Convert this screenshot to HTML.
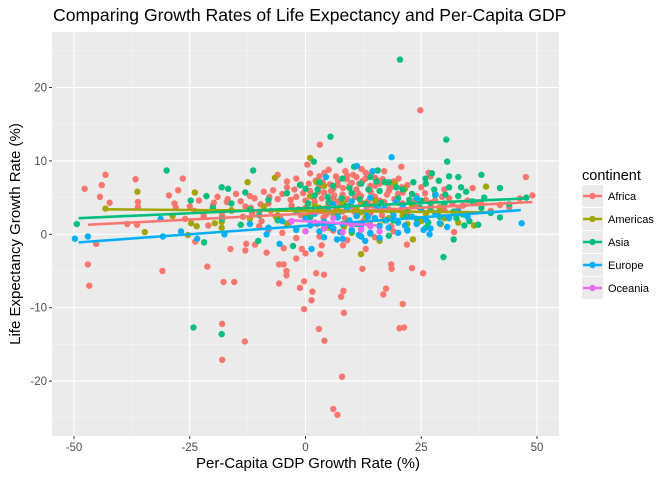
<!DOCTYPE html>
<html><head><meta charset="utf-8"><style>
body{margin:0;background:#fff;font-family:"Liberation Sans",sans-serif;}
svg text{font-family:"Liberation Sans",sans-serif;}
</style></head><body>
<svg id="chart" width="672" height="480" xmlns="http://www.w3.org/2000/svg">
<text x="53" y="21" font-size="17.6" fill="#000">Comparing Growth Rates of Life Expectancy and Per-Capita GDP</text>
<rect x="52" y="32" width="507" height="404" fill="#ebebeb"/>
<g id="grid"></g>
<g id="points"></g>
<g id="lines"></g>
<g id="axes"></g>
<text x="308" y="468" font-size="15" text-anchor="middle" fill="#000">Per-Capita GDP Growth Rate (%)</text>
<text transform="translate(20,234) rotate(-90)" font-size="15" text-anchor="middle" fill="#000">Life Expectancy Growth Rate (%)</text>
<g id="legend"></g>
</svg>
<script>
const xTicks=[-50,-25,0,25,50];
const yTicks=[-20,-10,0,10,20];
const continents=["Africa","Americas","Asia","Europe","Oceania"];
const colors=["#F8766D","#A3A500","#00BF7D","#00B0F6","#E76BF3"];
const africa=[24.8,16.9,3.1,12.2,-47.7,6.2,-43.2,8.1,-44,6.7,-44.4,5.1,-42.3,4.3,-36.7,7.5,-36.2,4.4,-36.2,3.7,-29.5,5.3,-28.3,4.2,-27.5,6,-26.5,7.6,-38.5,1.4,-36.4,1.3,-45.2,-1.3,-47,-4.1,-46.7,-7,-30.9,-5,-23.8,-1,-21.2,-4.4,-17.7,-6.5,-15.4,-6.5,-16.2,-2,-18,-12.2,-18,-17.1,-13.1,-14.6,-12.8,-1.3,-13,-2.2,-10.9,-1.4,-8.4,-2.5,-5.7,-4.1,-4.7,-4.1,-4.1,-5,-4.1,-5.6,-5.7,-6.7,-4.7,-1.9,-2,-3.3,-0.8,-2,0,-2.6,-1.2,-7.3,-0.3,-6.4,-0.3,-10.2,1.5,-7.8,1.3,-9,2.3,-5.3,3.2,-2.7,3.5,-1.5,4,-5.5,2.9,-12.9,4.1,-14.5,8.2,-7.7,7.7,-8.5,8.3,-10.7,7.9,-19.4,6,-23.8,6.9,-24.6,8.1,-1.5,12.3,-4.7,13,-2,16.8,-8.2,17.4,-7.4,18.5,-4.1,18.6,-4.7,21,-9.5,20.3,-12.8,21.3,-12.7,21.9,-1.4,23,-4.6,25.4,-5.3,32.1,0.3,47.6,7.8,49,5.3,46.3,4.9,36.1,6.3,20.7,9.2,0.4,9.5,26.6,8.4,
-14,4.5,-13,3.8,-12,5.2,-11,4.9,-10,3.1,-9,5.8,-8,4.2,-7,6,-6,4.8,-5,5.5,-4,6.4,-3,3.9,-2,5.1,-1,6.8,0,4.6,1,5.9,2,3.3,3,6.5,4,5.7,5,4.1,6,6.2,7,7.3,8,5.4,9,4.8,10,7,11,6.1,12,5.2,13,7.6,14,6.6,15,5.1,16,6.9,17,4.4,18,5.9,19,7.2,20,5.5,21,4.2,22,6.7,23,3.8,24,5.2,25,6.4,26,4.7,27,7.9,28,5.5,29,3.6,30,6.1,31,4.9,-13.5,2.4,-11.5,2.8,-9.5,1.8,-7.5,3.2,-5.5,2.3,-3.5,1.6,-1.5,3.4,0.5,2.1,2.5,1.4,4.5,2.7,6.5,3.6,8.5,2.2,10.5,3.1,12.5,1.8,14.5,3.9,16.5,2.6,18.5,1.1,20.5,3.3,22.5,2.4,24.5,1.7,-6,8.1,-4,7.2,-2,7.6,1,8.3,3,7.9,5,8.8,7,6.7,9,8.0,11,7.8,13,8.4,15,7.7,17,8.6,-20,3.9,-19,5.1,-18,2.6,-17,4.4,-16,3.2,-15,5.5,-22,2.5,-24,3.2,-26,2.1,-28,3.6,-21,1.2,0,3.6,2,4.4,4,3.5,6,4.9,8,3.1,10,5.6,12,4.3,14,2.9,16,4.6,18,3.4,20,4.3,22,3.1,24,4.1,26,2.9,28,4.6,30,3.3,-1,2.6,1.5,5.3,3.5,4.9,5.5,5.9,7.5,4.2,9.5,6.6,11.5,5.5,13.5,4.5,-8,0.6,-5,0.2,-2,-0.5,3,-0.3,6,0.5,9,-0.8,12,0.8,15,-0.4,19,0.4,-10,1.1,33,3.4,35,4.6,38,4.1,40,3.2,42,4,44,3.7,
-0.5,5.6,0.7,6.9,1.8,4.9,2.8,5.8,3.7,7.1,4.6,3.1,5.3,6.8,6.2,5.3,7.1,4.5,8.1,6.3,8.9,7.5,9.8,3.8,10.7,5.1,11.6,6.9,12.4,7.3,13.2,3.6,14.1,5.8,15,6.6,15.8,3.4,16.7,7.5,17.6,5.4,18.3,6.3,19.2,4.8,20.1,7.6,21,5.7,1.2,2.9,3.9,2.3,6.8,2.7,9.2,1.6,11.1,2.5,13.9,1.5,-3.2,4.7,-2.4,6.1,-7.8,5.1,-9.7,4.1,-11.8,3.6,-16.8,4.8,-19.8,4.3,-23,4.6,-25,3.8,2.2,7.3,4.1,8.4,6.6,7.9,8.6,8.6,10.3,8.1,12.1,8.9,14.2,8.2,16,7.3,18.1,6.6,20.8,6.4,23.6,4.6,25.8,5.6,27.1,4.3,29.5,5.1,31.7,4.1,34,3.9,36.7,4.4];
const americas=[-43.2,3.5,-36.3,5.8,-34.7,0.3,-23.9,5.7,-23.5,1.1,-25.4,-0.1,-24.7,1.5,-19.6,1.5,-18.1,0.9,-12.5,7.1,-6.6,7.7,1,10.4,12,-2.7,23.2,-0.7,16,-0.9,39,6.5,36.4,1.2,29.2,1.4,-28.7,2.5,-18.1,1.7,2.4,7.1,19.3,6.9,21.5,6.2,-6.4,2.4,8.3,1,12.7,4.2,
-16,3.3,-12,2.1,-9,3.8,-6,2.6,-4,1.4,-2,3.1,0,2.4,1,5.2,3,3.6,4,6.6,6,2.8,8,4.3,9,1.7,11,3.5,13,2.3,15,4.6,17,1.9,19,3.2,21,2.6,23,4.1,25,1.8,27,3.4,30,2.2,33,1.6,0,0.4,5,0.9,10,0.2,16,1.2,-2,0.8,2,3.9,7,3.3,12,3.0,14,1.1,18,2.2,22,1.4,26,2.8,29,3.7];
const asia=[20.4,23.8,5.4,13.3,30.4,12.9,30.6,9.9,7.4,10.1,1.8,9.9,-30,8.7,-11.3,8.7,-49.4,1.4,-21.9,-1.1,-24.2,-12.7,-18.1,-13.6,-10.2,-0.9,-2.7,-1.6,29.8,-3.1,32,-0.7,42,6.3,42,2.3,38,8.1,47.7,5,27.3,8.3,31,7.9,33,7.8,-24.8,4.6,-21.4,5.2,-18.1,6.4,-16.7,6.2,-13,5.7,33.6,6.4,34.7,5.8,38.6,5,37.3,1.3,34.3,1.2,35.4,1.8,25.9,7.6,28.8,7.3,23.3,7.1,10.5,9.2,15.6,8.7,17.1,7.1,
-20,3.6,-18,2.1,-16,4.2,-14,1.3,-12,3.4,-10,2.6,-8,4.7,-6,1.9,-4,5.6,-2,3.1,0,6.2,1,2.3,2,5.3,3,7.1,4,1.6,5,4.4,6,6.6,7,2.9,8,7.6,9,3.9,10,5.6,11,1.4,12,6.9,13,4.1,14,7.8,15,2.2,16,5.9,17,3.6,18,7.1,19,1.9,20,4.9,21,6.1,22,3.3,23,5.5,24,2.1,25,4.6,26,6.9,27,3.7,28,5.3,29,2.4,30,4.2,31,6.4,32,3.1,33,5.2,34,2.7,36,4.5,38,3.6,40,2.9,44,4.1,10,0.4,14,0.1,18,-0.2,22,0.6,26,0.9,
4.8,5.1,7.8,4.9,9.5,6.3,11.7,4.8,13.6,6.1,16.4,4.3,19.6,6.4,22.4,4.7,24.8,3.6,27.8,6.1,30.2,5.4,32.6,2.2,2.6,6.1,0.6,4.2,-1.2,6.7,15.3,7.2,18.8,3.1,21.8,2.4,26.5,1.6,28.4,2.9];
const europe=[-49.8,-0.6,-47,-0.3,-31.3,2.1,-30.8,-0.3,-26.9,0.4,-23.4,-0.6,-17.5,0,-8.4,0,-5.6,-1.3,1.3,-2,6.8,-0.7,12.9,-0.9,18.6,10.5,11.1,9.3,4.4,7.8,28.1,5.4,26.8,0,30.6,1,46.7,1.5,24,4.9,14.5,8.6,
-12,1.4,-8,0.9,-5,1.8,-2,0.6,0,2.1,1,1.2,2,2.8,3,0.4,4,1.7,5,3.2,6,0.8,7,2.3,8,1.4,9,3.6,10,0.6,11,2.5,12,1.3,13,3.1,14,0.2,15,2.2,16,1.1,17,3.5,18,0.9,19,2.6,20,1.6,21,3.9,22,0.5,23,2.4,24,1.4,25,3.3,26,2,27,0.8,28,2.9,29,1.5,31,2.2,33,3.1,35,2.4,4,-0.4,8,-0.6,12,-0.3,16,-0.5,20,0.2,6,4.1,10,4.5,14,5,
5.5,1.1,9.5,1.9,13.5,2.4,17.5,1.9,21.5,1.2,25.5,0.6,19.5,4.4,15.5,3.8,7.5,0.3,11.5,-0.1];
const oceania=[-3,1.8,0,0.4,2,1.6,4,0.8,6,2.2,8,0.3,10,1.3,12,0.6,14,1.1,16,0.4];
const fitStartX=[-47,-43,-49,-49,-3];
const fitStartY=[1.3,3.4,2.2,-1.1,1.9];
const fitEndX=[49,39,48,46.5,15.5];
const fitEndY=[4.4,3.0,4.9,3.3,1.2];

const NS="http://www.w3.org/2000/svg";
const X0=52,X1=559,Y0=32,Y1=436;
function sx(v){return 305.5+v*4.63;}
function sy(v){return 234.3-v*7.34;}
function mk(t,a,p){const e=document.createElementNS(NS,t);for(const k in a)e.setAttribute(k,a[k]);p.appendChild(e);return e;}
const grid=document.getElementById('grid');
[-37.5,-12.5,12.5,37.5].forEach(v=>{const l=mk('line',{x1:sx(v),x2:sx(v),y1:Y0,y2:Y1,stroke:'#f5f5f5','stroke-width':0.6},grid);});
[-25,-15,-5,5,15,25].forEach(v=>{const l=mk('line',{x1:X0,x2:X1,y1:sy(v),y2:sy(v),stroke:'#f5f5f5','stroke-width':0.6},grid);});
const axes=document.getElementById('axes');
xTicks.forEach(v=>{const l=mk('line',{x1:sx(v),x2:sx(v),y1:Y0,y2:Y1,stroke:'#fff','stroke-width':1.1},grid);
const t=mk('line',{x1:sx(v),x2:sx(v),y1:Y1,y2:Y1+3,stroke:'#333','stroke-width':1},axes);
const tx=mk('text',{x:sx(v),y:Y1+15,'font-size':11.5,'text-anchor':'middle',fill:'#4d4d4d'},axes);tx.textContent=v;});
yTicks.forEach(v=>{const l=mk('line',{x1:X0,x2:X1,y1:sy(v),y2:sy(v),stroke:'#fff','stroke-width':1.1},grid);
const t=mk('line',{x1:X0-3,x2:X0,y1:sy(v),y2:sy(v),stroke:'#333','stroke-width':1},axes);
const tx=mk('text',{x:X0-5,y:sy(v)+4,'font-size':11.5,'text-anchor':'end',fill:'#4d4d4d'},axes);tx.textContent=v;});
const pts=document.getElementById('points');
[africa,americas,asia,europe,oceania].forEach((arr,ci)=>{for(let i=0;i<arr.length;i+=2){const c=mk('circle',{cx:sx(arr[i]),cy:sy(arr[i+1]),r:3.2,fill:colors[ci]},pts);}});
const lines=document.getElementById('lines');
continents.forEach((n,i)=>{const l=mk('line',{x1:sx(fitStartX[i]),y1:sy(fitStartY[i]),x2:sx(fitEndX[i]),y2:sy(fitEndY[i]),stroke:colors[i],'stroke-width':2.6},lines);});
const lg=document.getElementById('legend');
const lt=mk('text',{x:582,y:180,'font-size':14.5,fill:'#000'},lg);lt.textContent='continent';
continents.forEach((n,i)=>{const y=185+i*23;const g=mk('g',{},lg);
mk('rect',{x:582,y:y,width:21,height:22,fill:'#ebebeb'},g);
mk('line',{x1:583,x2:602,y1:y+11,y2:y+11,stroke:colors[i],'stroke-width':2.6},g);
mk('circle',{cx:592.5,cy:y+11,r:3.2,fill:colors[i]},g);
const t=mk('text',{x:608,y:y+15,'font-size':11,fill:'#000'},g);t.textContent=n;});
</script>
</body></html>
